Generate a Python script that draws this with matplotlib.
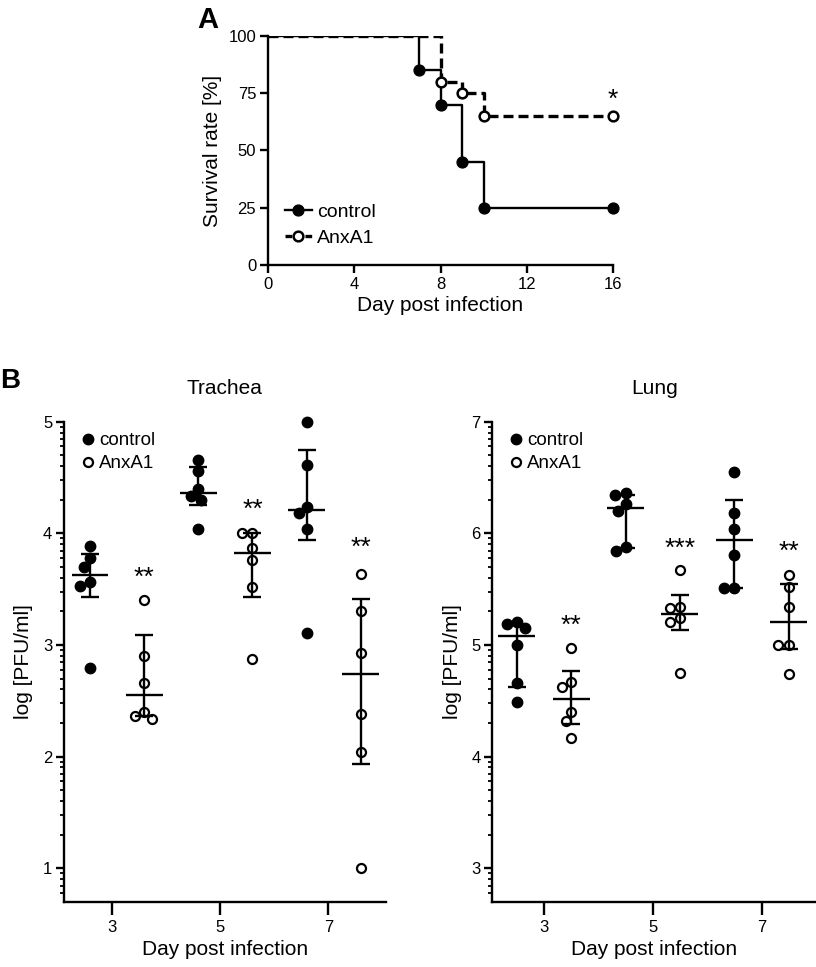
import numpy as np
import matplotlib
matplotlib.use("Agg")
import matplotlib.pyplot as plt
from matplotlib.lines import Line2D

plt.rcParams["font.family"] = ["Liberation Sans", "DejaVu Sans"]

# Panel A: survival curves
days_ctrl = [0, 7, 8, 9, 10, 16]
surv_ctrl = [100, 85, 70, 45, 25, 25]
days_anx = [0, 8, 9, 10, 16]
surv_anx = [100, 80, 75, 65, 65]

# Panel B: virus titres, log [PFU/ml], six mice per group
trachea_ctrl = [
    [3.89, 3.78, 3.70, 3.56, 3.53, 2.79],
    [4.66, 4.56, 4.40, 4.33, 4.30, 4.04],
    [5.00, 4.61, 4.24, 4.18, 4.04, 3.11],
]
trachea_anx = [
    [3.40, 2.90, 2.66, 2.40, 2.36, 2.34],
    [4.00, 4.00, 3.87, 3.76, 3.52, 2.87],
    [3.64, 3.30, 2.93, 2.38, 2.04, 1.00],
]
lung_ctrl = [
    [5.21, 5.19, 5.15, 5.00, 4.66, 4.49],
    [6.36, 6.34, 6.26, 6.20, 5.88, 5.84],
    [6.55, 6.18, 6.04, 5.81, 5.51, 5.51],
]
lung_anx = [
    [4.97, 4.67, 4.62, 4.40, 4.32, 4.17],
    [5.67, 5.34, 5.33, 5.24, 5.21, 4.75],
    [5.63, 5.52, 5.34, 5.00, 5.00, 4.74],
]

# median and interquartile range as drawn: [control d3, anx d3, control d5, ...]
trachea_med = [3.63, 2.55, 4.36, 3.82, 4.21, 2.74]
trachea_lo = [3.43, 2.36, 4.25, 3.43, 3.94, 1.93]
trachea_hi = [3.815, 3.09, 4.59, 4.00, 4.75, 3.41]
lung_med = [5.08, 4.52, 6.23, 5.28, 5.94, 5.21]
lung_lo = [4.62, 4.29, 5.87, 5.13, 5.51, 4.96]
lung_hi = [5.18, 4.77, 6.34, 5.45, 6.30, 5.55]

trachea_stars = ["**", "**", "**"]
trachea_star_y = [3.67, 4.28, 3.94]
lung_stars = ["**", "***", "**"]
lung_star_y = [5.24, 5.93, 5.90]

days = [3, 5, 7]

STAR_FS = 19


def star(ax, x, y, s):
    # centre the asterisk glyph (not the text box) on y
    ax.annotate(s, (x, y), xytext=(0, -0.56 * STAR_FS),
                textcoords="offset points", ha="center", va="baseline",
                fontsize=STAR_FS, annotation_clip=False)


def swarm(values, px_x, px_y, diam=10.5):
    # simple beeswarm: offsets in data units
    order = np.argsort(values)[::-1]
    placed = []
    offs = np.zeros(len(values))
    for i in order:
        y = values[i] * px_y
        bad = []
        for (px, py) in placed:
            dy = abs(py - y)
            if dy < diam:
                w = np.sqrt(diam ** 2 - dy ** 2)
                bad.append((px - w, px + w))
        cands = [0.0]
        for a, b in bad:
            cands += [a, b]
        cands.sort(key=abs)
        for c in cands:
            if all(not (a + 1e-6 < c < b - 1e-6) for a, b in bad):
                break
        offs[i] = c / px_x
        placed.append((c, y))
    return offs


def log_minor(ax, lo, hi):
    ticks = []
    for n in range(int(np.floor(lo)) - 1, int(np.ceil(hi)) + 1):
        for k in range(2, 10):
            t = n + np.log10(k)
            if lo <= t <= hi:
                ticks.append(t)
    ax.set_yticks(ticks, minor=True)


def style_axes(ax):
    for s in ["top", "right"]:
        ax.spines[s].set_visible(False)
    for s in ["left", "bottom"]:
        ax.spines[s].set_linewidth(1.7)
    ax.tick_params(which="major", direction="out", length=5.5, width=1.7,
                   labelsize=12, pad=3)
    ax.tick_params(which="minor", direction="out", length=3.2, width=1.3)


fig = plt.figure(figsize=(8.16, 9.67), dpi=100)

# ---------------- Panel A
axA = fig.add_axes([268 / 816, 1 - 265 / 967, 345 / 816, 229 / 967])
style_axes(axA)
axA.step(days_ctrl, surv_ctrl, where="post", color="black", lw=1.7)
axA.step(days_anx, surv_anx, where="post", color="black", lw=2.4,
         linestyle=(0, (3, 1.5)))
axA.plot(days_ctrl[1:], surv_ctrl[1:], "o", color="black", ms=7.8,
         clip_on=False, zorder=3)
axA.plot(days_anx[1:], surv_anx[1:], "o", mfc="white", mec="black",
         mew=1.8, ms=7.0, clip_on=False, zorder=3)
star(axA, 16, 75.5, "*")
axA.set_xlim(0, 16)
axA.set_ylim(0, 100)
axA.set_xticks([0, 4, 8, 12, 16])
axA.set_yticks([0, 25, 50, 75, 100])
axA.set_xlabel("Day post infection", fontsize=15, labelpad=3)
axA.set_ylabel("Survival rate [%]", fontsize=15, labelpad=5)
hA = [Line2D([], [], color="black", lw=1.7, marker="o", ms=7.8),
      Line2D([], [], color="black", lw=2.4, linestyle=(0, (2, 1)), marker="o",
             mfc="white", mec="black", mew=1.8, ms=7.0)]
axA.legend(hA, ["control", "AnxA1"], loc="lower left",
           bbox_to_anchor=(0.05, 0.08), frameon=False, fontsize=14,
           handlelength=1.35, handletextpad=0.3, labelspacing=0.4,
           borderaxespad=0, borderpad=0)
fig.text(197 / 816, 1 - 28 / 967, "A", fontsize=21, fontweight="bold")

# ---------------- Panel B
fig.text(0 / 816, 1 - 388 / 967, "B", fontsize=20, fontweight="bold")

panels = [
    ("Trachea", 64, 385.7, 0.7, 5.0, 2.12, 8.06, 0.6, trachea_ctrl,
     trachea_anx, trachea_med, trachea_lo, trachea_hi, trachea_stars,
     trachea_star_y, [1, 2, 3, 4, 5]),
    ("Lung", 492.3, 816, 2.7, 7.0, 2.05, 8.0, 0.5, lung_ctrl, lung_anx,
     lung_med, lung_lo, lung_hi, lung_stars, lung_star_y, [3, 4, 5, 6, 7]),
]

for (title, x0, x1, ylo, yhi, xlo, xhi, shift, ctrl, anx, med, lo, hi,
     stars, star_y, yt) in panels:
    top, bottom = 421.7, 901.7
    ax = fig.add_axes([x0 / 816, 1 - bottom / 967, (x1 - x0) / 816,
                       (bottom - top) / 967])
    style_axes(ax)
    ax.tick_params(axis="x", which="major", length=9, pad=4)
    ax.set_xlim(xlo, xhi)
    ax.set_ylim(ylo, yhi)
    px_x = (x1 - x0) / (xhi - xlo)
    px_y = (bottom - top) / (yhi - ylo)

    groups = []
    for j, d in enumerate(days):
        groups.append((d - 1 + shift, ctrl[j], True))
        groups.append((d + shift, anx[j], False))

    for g, (xc, vals, filled) in enumerate(groups):
        vals = np.array(vals)
        offs = swarm(vals, px_x, px_y)
        if filled:
            ax.plot(xc + offs, vals, "o", color="black", ms=7.5, zorder=3,
                    clip_on=False)
        else:
            ax.plot(xc + offs, vals, "o", mfc="white", mec="black", mew=1.6,
                    ms=6.5, zorder=3, clip_on=False)
        ax.errorbar([xc], [med[g]], yerr=[[med[g] - lo[g]], [hi[g] - med[g]]],
                    fmt="none", ecolor="black", elinewidth=1.7, capsize=6.5,
                    capthick=1.7, zorder=4)
        ax.hlines(med[g], xc - 0.34, xc + 0.34, color="black", lw=1.7,
                  zorder=4)

    for j, d in enumerate(days):
        star(ax, d + shift, star_y[j], stars[j])

    ax.set_xticks(days)
    ax.set_yticks(yt)
    log_minor(ax, ylo, yhi)
    ax.set_xlabel("Day post infection", fontsize=15, labelpad=4)
    ax.set_ylabel("log [PFU/ml]", fontsize=15, labelpad=7)
    ax.set_title(title, fontsize=15, pad=20)
    hB = [Line2D([], [], color="black", marker="o", ls="none", ms=7.5),
          Line2D([], [], mfc="white", mec="black", mew=1.6, marker="o",
                 ls="none", ms=6.5)]
    ax.legend(hB, ["control", "AnxA1"], loc="upper left",
              bbox_to_anchor=(0.05, 0.978), frameon=False, fontsize=13.5,
              handlelength=0.8, handletextpad=0.2, labelspacing=0.3,
              borderaxespad=0, borderpad=0)

fig.savefig("out.png", dpi=100)
